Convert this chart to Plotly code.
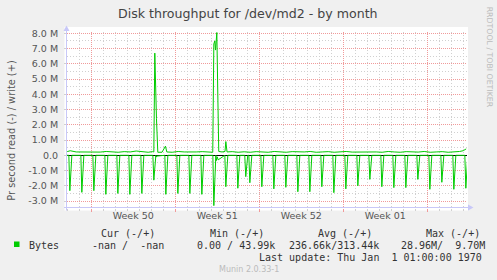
import plotly.graph_objects as go

# ---------------- data ----------------
# x values are days relative to Monday 00:00 of ISO week 50
x_range_days = [-2.017, 31.317]
week_starts = [0, 7, 14, 21, 28]
week_label_pos = [3.5, 10.5, 17.5, 24.5]
week_labels = ["Week 50", "Week 51", "Week 52", "Week 01"]

# write (+) in MBytes/s
write_days = [-2.0, -1.75, -1.25, -0.75, -0.25, 0.25, 0.75, 1.25, 1.75, 2.25, 2.75, 3.25, 3.75,
              4.25, 4.75, 5.1, 5.22, 5.30, 5.36, 5.44, 5.55, 5.9, 6.19, 6.3, 6.75, 7.25, 7.75,
              8.25, 8.75, 9.25, 9.75, 10.13, 10.22, 10.30, 10.36, 10.47, 10.55, 10.63, 10.9,
              11.15, 11.22, 11.32, 11.75, 12.25, 12.75, 13.25, 13.75, 14.25, 14.75, 15.25,
              15.75, 16.25, 16.75, 17.25, 17.75, 18.25, 18.75, 19.25, 19.75, 20.25, 20.75,
              21.25, 21.75, 22.25, 22.75, 23.25, 23.75, 24.25, 24.75, 25.25, 25.75, 26.25,
              26.75, 27.25, 27.75, 28.25, 28.75, 29.25, 29.75, 30.25, 30.7, 31.0, 31.25]
write_vals = [0.24, 0.3, 0.22, 0.22, 0.2, 0.24, 0.21, 0.25, 0.22, 0.2, 0.24, 0.22, 0.28,
              0.22, 0.2, 0.24, 0.22, 6.7, 4.6, 2.4, 0.2, 0.2, 0.6, 0.22, 0.2, 0.25, 0.22,
              0.2, 0.22, 0.24, 0.22, 0.2, 7.3, 7.5, 6.9, 8.05, 4.0, 0.25, 0.22,
              0.25, 0.9, 0.22, 0.24, 0.2, 0.23, 0.2, 0.24, 0.21, 0.2, 0.25,
              0.22, 0.2, 0.24, 0.21, 0.22, 0.25, 0.2, 0.22, 0.24, 0.2, 0.22,
              0.25, 0.21, 0.22, 0.2, 0.24, 0.22, 0.2, 0.25, 0.22, 0.2, 0.24,
              0.22, 0.21, 0.25, 0.2, 0.22, 0.24, 0.2, 0.22, 0.25, 0.3, 0.42]

# read (-) daily spikes: day of spike and depth (MBytes/s, negative)
read_spike_days = [-1.78, -0.78, 0.22, 1.22, 2.22, 3.22, 4.22, 5.22, 6.22, 7.22, 8.22, 9.22,
                   10.22, 11.22, 12.22, 12.88, 13.22, 14.22, 15.22, 16.22, 17.22, 18.22, 19.22,
                   20.22, 21.22, 22.22, 23.22, 24.22, 25.22, 26.22, 27.22, 28.22, 29.22,
                   30.22, 31.22]
read_spike_vals = [-2.32, -2.43, -2.32, -2.56, -2.5, -2.56, -2.5, -1.63, -2.56, -2.5, -2.5, -2.56,
                   -3.3, -2.06, -2.16, -1.4, -1.8, -2.06, -2.2, -2.1, -2.39, -2.39, -2.06,
                   -2.45, -2.2, -2.0, -1.58, -2.06, -2.12, -2.12, -1.58, -2.23, -1.77,
                   -2.23, -2.16]
# small dips near zero after the big write bursts
read_small_days = [5.40, 5.48, 10.42, 10.50, 10.58]
read_small_vals = [-0.12, -0.05, -0.35, -0.1, -0.3]

y_tick_vals = [-3, -2, -1, 0, 1, 2, 3, 4, 5, 6, 7, 8]
y_tick_text = ["-3.0 M", "-2.0 M", "-1.0 M", "0.0", "1.0 M", "2.0 M", "3.0 M",
               "4.0 M", "5.0 M", "6.0 M", "7.0 M", "8.0 M"]
y_range = [-3.456, 8.085]

title_text = "Disk throughput for /dev/md2 - by month"
y_title = "Pr second read (-) / write (+)"
side_text = "RRDTOOL / TOBI OETIKER"
series_name = "Bytes"
legend_headers = ["Cur (-/+)", "Min (-/+)", "Avg (-/+)", "Max (-/+)"]
legend_values = ["-nan /  -nan", "0.00 / 43.99k", "236.66k/313.44k", "28.96M/  9.70M"]
last_update = "Last update: Thu Jan  1 01:00:00 1970"
footer = "Munin 2.0.33-1"

GREEN = "#00cc00"

# ---------------- build ----------------
pts = []
for d, v in zip(read_spike_days, read_spike_vals):
    pts += [(d - 0.083, 0.0), (d, v), (d + 0.167, 0.0)]
for d, v in zip(read_small_days, read_small_vals):
    pts.append((d, v))
pts = sorted(pts)
read_days = [x_range_days[0]] + [p[0] for p in pts]
read_vals = [0.0] + [p[1] for p in pts]

fig = go.Figure()
fig.add_trace(go.Scatter(x=read_days, y=read_vals, mode="lines",
                         line=dict(color=GREEN, width=1), hoverinfo="skip", showlegend=False))
fig.add_trace(go.Scatter(x=write_days, y=write_vals, mode="lines",
                         line=dict(color=GREEN, width=1), hoverinfo="skip", showlegend=False))

W, H = 497, 280
L, R, T, B = 67, 467, 32, 208

def px(x):
    return (x - L) / (R - L)

def py(y):
    return (B - y) / (B - T)

MAJ = "#f09a9a"
MIN = "#d0d0d0"
AX = "#c8c8f8"
TXT = "#555555"

minor_x = [d for d in range(-2, 32) if d not in week_starts]
minor_y = [v + 0.5 for v in range(-4, 8)]

fig.update_layout(
    width=W, height=H,
    margin=dict(l=L, r=W - R, t=T, b=H - B, pad=0),
    paper_bgcolor="#f0f0f0", plot_bgcolor="white",
    font=dict(family="DejaVu Sans", size=10, color=TXT),
    showlegend=False,
)
fig.update_layout(
    xaxis=dict(
        range=x_range_days, tickmode="array", tickvals=week_starts, showticklabels=False,
        showgrid=True, gridcolor=MAJ, griddash="1px,1px", gridwidth=1,
        ticks="outside", ticklen=3, tickcolor=MAJ,
        minor=dict(tickmode="array", tickvals=minor_x, showgrid=True, gridcolor=MIN,
                   griddash="1px,2px", ticks="outside", ticklen=2, tickcolor=MIN),
        showline=False, zeroline=False, fixedrange=True,
    ),
    xaxis2=dict(
        overlaying="x", matches="x", side="bottom", anchor="y",
        range=x_range_days, tickmode="array", tickvals=week_label_pos, ticktext=week_labels,
        showgrid=False, ticks="", zeroline=False, showline=False, fixedrange=True,
        tickfont=dict(family="DejaVu Sans", size=9.5, color=TXT),
    ),
    yaxis=dict(
        range=y_range, tickvals=y_tick_vals, ticktext=y_tick_text,
        showgrid=True, gridcolor=MAJ, griddash="1px,1px", gridwidth=1,
        ticks="outside", ticklen=2, tickcolor=MIN,
        tickfont=dict(family="DejaVu Sans", size=9.5, color=TXT),
        ticklabelstandoff=4,
        minor=dict(tickmode="array", tickvals=minor_y, showgrid=True, gridcolor=MIN, griddash="1px,2px"),
        zeroline=True, zerolinecolor="black", zerolinewidth=1,
        showline=False, fixedrange=True,
    ),
)
fig.add_trace(go.Scatter(x=[None], y=[None], xaxis="x2", yaxis="y", showlegend=False,
                         hoverinfo="skip"))

shapes = [
    dict(type="rect", xref="paper", yref="paper", layer="below",
         x0=px(64.5), x1=px(468), y0=py(210.5), y1=py(27),
         fillcolor="white", line=dict(width=0)),
    dict(type="line", xref="paper", yref="paper", x0=px(66.5), x1=px(66.5),
         y0=py(210.5), y1=py(29), line=dict(color=AX, width=1)),
    dict(type="line", xref="paper", yref="paper", x0=px(64), x1=px(470),
         y0=py(207.5), y1=py(207.5), line=dict(color=AX, width=1)),
    dict(type="path", xref="paper", yref="paper",
         path=f"M {px(63.5)} {py(31)} L {px(69.5)} {py(31)} L {px(66.5)} {py(25.5)} Z",
         fillcolor=AX, line=dict(width=0)),
    dict(type="path", xref="paper", yref="paper",
         path=f"M {px(468)} {py(204.5)} L {px(468)} {py(210.5)} L {px(473.5)} {py(207.5)} Z",
         fillcolor=AX, line=dict(width=0)),
    dict(type="rect", xref="paper", yref="paper", x0=px(14), x1=px(19.5),
         y0=py(247), y1=py(241.5), fillcolor=GREEN, line=dict(width=0)),
]
fig.update_layout(shapes=shapes)

NB = "\u00a0"
def nb(s):
    return s.replace(" ", NB)

MONO = dict(family="DejaVu Sans Mono", size=10, color="#333333")
ann = [
    dict(text=title_text, x=px(248.3), y=py(14), font=dict(family="DejaVu Sans", size=12.6, color="#444444"),
         xanchor="center", yanchor="middle"),
    dict(text=y_title, x=px(11.2), y=py(130.5), textangle=-90,
         font=dict(family="DejaVu Sans", size=9.8, color=TXT), xanchor="center", yanchor="middle"),
    dict(text=side_text, x=px(489), y=py(56.7), textangle=90,
         font=dict(family="DejaVu Sans", size=7.8, color="#bbbbbb"), xanchor="center", yanchor="middle"),
    dict(text=nb(series_name), x=px(26.7), y=py(245.7), font=MONO, xanchor="left", yanchor="middle"),
    dict(text=nb(last_update), x=px(484), y=py(257.7), font=MONO, xanchor="right", yanchor="middle"),
    dict(text=footer, x=px(248.5), y=py(269.5), font=dict(family="DejaVu Sans", size=8, color="#bbbbbb"),
         xanchor="center", yanchor="middle"),
]
header_x = [99, 207.7, 315.7, 423.7]
value_x = [90.3, 194.7, 287.3, 398.7]
for hx, h in zip(header_x, legend_headers):
    ann.append(dict(text=nb(h), x=px(hx), y=py(233.3), font=MONO, xanchor="left", yanchor="middle"))
for vx, v in zip(value_x, legend_values):
    ann.append(dict(text=nb(v), x=px(vx), y=py(245.7), font=MONO, xanchor="left", yanchor="middle"))
for a in ann:
    a.update(xref="paper", yref="paper", showarrow=False)
fig.update_layout(annotations=ann)

fig.write_html("out.html", config={"displayModeBar": False})
